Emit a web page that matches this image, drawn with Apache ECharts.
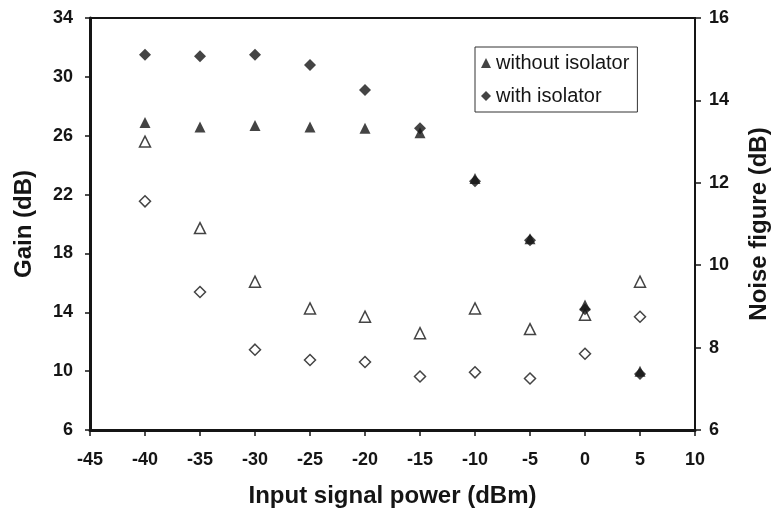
<!DOCTYPE html>
<html>
<head>
<meta charset="UTF-8">
<title>Gain and noise figure</title>
<script src="https://cdn.jsdelivr.net/npm/echarts@6/dist/echarts.min.js"></script>
<style>
  html, body { margin: 0; padding: 0; background: #fff; }
  #main { width: 773px; height: 515px; }
</style>
</head>
<body>
<div id="main"></div>
<script type="text/javascript">
  // input power (dBm)
  var power = [-40, -35, -30, -25, -20, -15, -10, -5, 0, 5];
  // gain (dB), left axis
  var gainWithout = [26.9, 26.6, 26.7, 26.6, 26.5, 26.2, 23.1, 19.0, 14.5, 10.0];
  var gainWith = [31.5, 31.4, 31.5, 30.8, 29.1, 26.5, 22.9, 18.9, 14.2, 9.8];
  // noise figure (dB), right axis
  var nfWithout = [13.0, 10.9, 9.6, 8.95, 8.75, 8.35, 8.95, 8.45, 8.8, 9.6];
  var nfWith = [11.55, 9.35, 7.95, 7.7, 7.65, 7.3, 7.4, 7.25, 7.85, 8.75];
  var gainTicks = [6, 10, 14, 18, 22, 26, 30, 34];

  function pairs(xs, ys) {
    var out = [];
    for (var i = 0; i < xs.length; i++) out.push([xs[i], ys[i]]);
    return out;
  }

  var font = '"Liberation Sans", Arial, sans-serif';
  var ink = '#151515';

  var myChart = echarts.init(document.getElementById('main'));
  var option = {
    backgroundColor: '#fff',
    animation: false,
    grid: {
      left: 90, right: 78, top: 18, bottom: 85,
      outerBoundsMode: 'none',
      show: true, borderColor: ink, borderWidth: 2
    },
    legend: {
      data: [
        { name: 'without isolator', icon: 'triangle' },
        { name: 'with isolator', icon: 'diamond' }
      ],
      orient: 'vertical',
      left: 475, top: 47,
      backgroundColor: '#fff',
      borderColor: '#333', borderWidth: 1,
      padding: [6, 8, 6, 6],
      itemWidth: 10, itemHeight: 10, itemGap: 13,
      textStyle: { fontFamily: font, fontSize: 20, color: ink }
    },
    xAxis: {
      type: 'value', min: -45, max: 10, interval: 5,
      name: 'Input signal power (dBm)', nameLocation: 'middle', nameGap: 54,
      nameTextStyle: { fontFamily: font, fontSize: 24, fontWeight: 'bold', color: ink },
      axisLine: { show: true, onZero: false, lineStyle: { color: ink, width: 3 } },
      axisTick: { show: true, length: 6, lineStyle: { color: ink, width: 1.5 } },
      axisLabel: { margin: 21, fontFamily: font, fontSize: 18, fontWeight: 'bold', color: ink },
      splitLine: { show: false }
    },
    yAxis: [
      {
        type: 'value', min: 6, max: 34,
        name: 'Gain (dB)', nameLocation: 'middle', nameRotate: 90, nameGap: 54,
        nameTextStyle: { fontFamily: font, fontSize: 24, fontWeight: 'bold', color: ink },
        axisLine: { show: true, onZero: false, lineStyle: { color: ink, width: 3 } },
        axisTick: { show: true, length: 5, customValues: gainTicks, lineStyle: { color: ink, width: 1.5 } },
        axisLabel: { margin: 17, customValues: gainTicks, fontFamily: font, fontSize: 18, fontWeight: 'bold', color: ink },
        splitLine: { show: false }
      },
      {
        type: 'value', min: 6, max: 16, interval: 2, position: 'right',
        name: 'Noise figure (dB)', nameLocation: 'middle', nameRotate: 90, nameGap: 52,
        nameTextStyle: { fontFamily: font, fontSize: 24, fontWeight: 'bold', color: ink },
        axisLine: { show: true, onZero: false, lineStyle: { color: ink, width: 2 } },
        axisTick: { show: true, length: 6, lineStyle: { color: ink, width: 1.5 } },
        axisLabel: { margin: 14, fontFamily: font, fontSize: 18, fontWeight: 'bold', color: ink },
        splitLine: { show: false }
      }
    ],
    series: [
      {
        name: 'NF without isolator', type: 'scatter', yAxisIndex: 1,
        symbol: 'triangle', symbolSize: 11, z: 2,
        itemStyle: { color: '#fff', borderColor: ink, borderWidth: 1.5 },
        data: pairs(power, nfWithout)
      },
      {
        name: 'NF with isolator', type: 'scatter', yAxisIndex: 1,
        symbol: 'diamond', symbolSize: 11, z: 2,
        itemStyle: { color: '#fff', borderColor: ink, borderWidth: 1.5 },
        data: pairs(power, nfWith)
      },
      {
        name: 'with isolator', type: 'scatter', yAxisIndex: 0,
        symbol: 'diamond', symbolSize: 12, z: 3,
        itemStyle: { color: '#151515' },
        data: pairs(power, gainWith)
      },
      {
        name: 'without isolator', type: 'scatter', yAxisIndex: 0,
        symbol: 'triangle', symbolSize: 11, z: 4,
        itemStyle: { color: '#151515' },
        data: pairs(power, gainWithout)
      }
    ]
  };
  myChart.setOption(option);
</script>
</body>
</html>
